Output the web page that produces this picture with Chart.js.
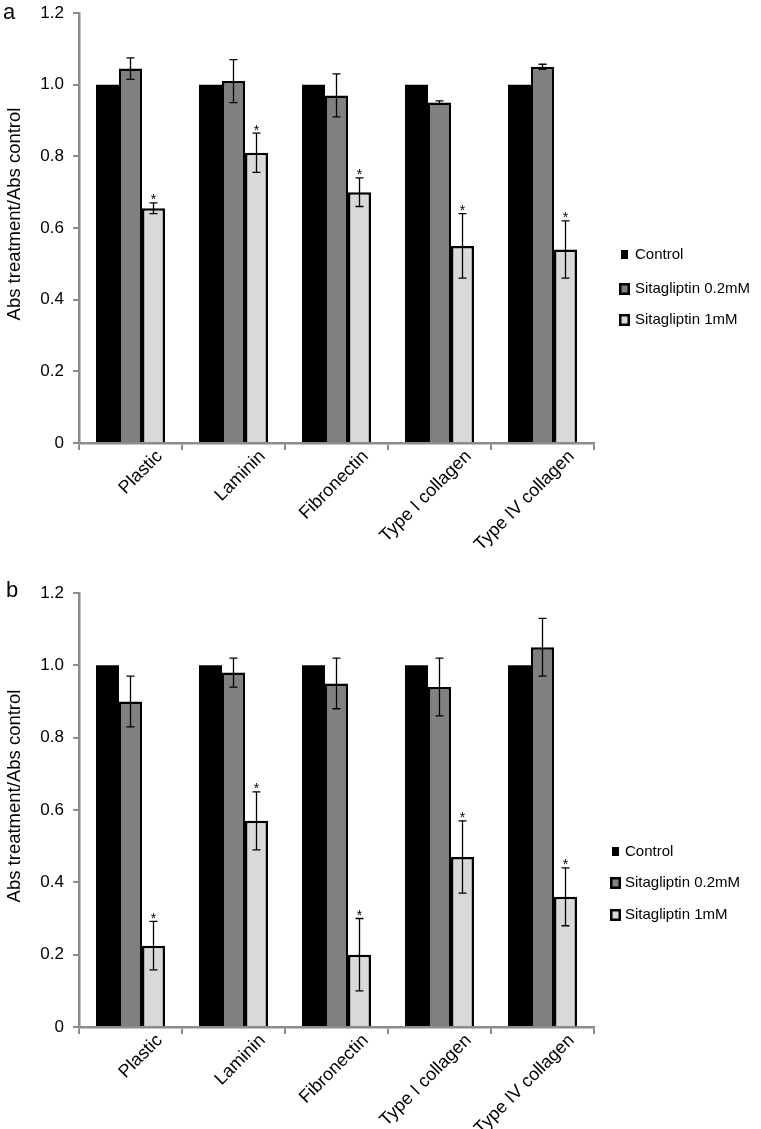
<!DOCTYPE html>
<html>
<head>
<meta charset="utf-8">
<title>Sitagliptin – adhesion to matrix</title>
<script src="https://cdn.jsdelivr.net/npm/chart.js@4.4.1/dist/chart.umd.min.js"></script>
<style>
  html, body { margin: 0; padding: 0; background: #fff; }
  .panel { position: absolute; left: 0; width: 761px; }
  #panelA { top: 0; height: 560px; }
  #panelB { top: 560px; height: 569px; }
</style>
</head>
<body>
<div class="panel" id="panelA"><canvas id="chartA" width="761" height="560"></canvas></div>
<div class="panel" id="panelB"><canvas id="chartB" width="761" height="569"></canvas></div>
<script>
// ---- data ----
const categories = ["Plastic", "Laminin", "Fibronectin", "Type I collagen", "Type IV collagen"];
const seriesNames = ["Control", "Sitagliptin 0.2mM", "Sitagliptin 1mM"];
const yTickLabels = ["0", "0.2", "0.4", "0.6", "0.8", "1.0", "1.2"];
const yTitle = "Abs treatment/Abs control";

// panel a
const controlA = [1, 1, 1, 1, 1];
const sita02A = [1.045, 1.01, 0.97, 0.95, 1.05];
const sita02ErrA = [0.03, 0.06, 0.06, 0.005, 0.007];
const sita1A = [0.655, 0.81, 0.70, 0.55, 0.54];
const sita1ErrA = [0.015, 0.055, 0.04, 0.09, 0.08];
const starsA = [true, true, true, true, true];

// panel b
const controlB = [1, 1, 1, 1, 1];
const sita02B = [0.90, 0.98, 0.95, 0.94, 1.05];
const sita02ErrB = [0.07, 0.04, 0.07, 0.08, 0.08];
const sita1B = [0.225, 0.57, 0.20, 0.47, 0.36];
const sita1ErrB = [0.067, 0.08, 0.10, 0.10, 0.08];
const starsB = [true, true, true, true, true];

const colors = ["#000000", "#808080", "#d9d9d9"];
const FONT = "'Liberation Sans', Arial, sans-serif";

// error bars + significance stars
const errorBarPlugin = {
  id: "errorBars",
  afterDatasetsDraw(chart) {
    const ctx = chart.ctx;
    const y = chart.scales.y;
    chart.data.datasets.forEach((ds, i) => {
      if (!ds.errors) return;
      const meta = chart.getDatasetMeta(i);
      meta.data.forEach((bar, j) => {
        const v = ds.data[j], e = ds.errors[j];
        const top = y.getPixelForValue(v + e);
        const bot = y.getPixelForValue(v - e);
        ctx.save();
        ctx.strokeStyle = "#000";
        ctx.lineWidth = 1.3;
        ctx.beginPath();
        ctx.moveTo(bar.x, top); ctx.lineTo(bar.x, bot);
        ctx.moveTo(bar.x - 4, top); ctx.lineTo(bar.x + 4, top);
        ctx.moveTo(bar.x - 4, bot); ctx.lineTo(bar.x + 4, bot);
        ctx.stroke();
        if (ds.stars && ds.stars[j]) {
          ctx.fillStyle = "#000";
          ctx.font = "14px " + FONT;
          ctx.textAlign = "center";
          ctx.textBaseline = "alphabetic";
          ctx.fillText("*", bar.x, top + 1.5);
        }
        ctx.restore();
      });
    });
  }
};

// panel letter, y title and legend on the right
const sideLegendPlugin = {
  id: "sideLegend",
  afterDraw(chart, args, opts) {
    const ctx = chart.ctx;
    ctx.save();
    ctx.fillStyle = "#000";
    ctx.font = "22px " + FONT;
    ctx.textAlign = "left";
    ctx.textBaseline = "middle";
    ctx.fillText(opts.letter, opts.letterX, opts.letterY);

    ctx.save();
    ctx.translate(opts.titleX, opts.titleY);
    ctx.rotate(-Math.PI / 2);
    ctx.textAlign = "center";
    ctx.textBaseline = "alphabetic";
    ctx.font = "18.5px " + FONT;
    ctx.fillText(yTitle, 0, 0);
    ctx.restore();

    ctx.font = "15px " + FONT;
    ctx.textAlign = "left";
    ctx.textBaseline = "middle";
    chart.data.datasets.forEach((ds, i) => {
      const yy = opts.ys[i];
      if (i === 0) {
        ctx.fillStyle = ds.backgroundColor;
        ctx.fillRect(opts.x + 2, yy - 5, 7, 9);
      } else {
        ctx.fillStyle = "#000";
        ctx.fillRect(opts.x, yy - 6, 11, 12);
        ctx.fillStyle = ds.backgroundColor;
        ctx.fillRect(opts.x + 2.5, yy - 3.5, 6, 7);
      }
      ctx.fillStyle = "#000";
      ctx.fillText(ds.label, opts.textX, yy);
    });
    ctx.restore();
  }
};

function makeDatasets(control, s02, e02, s1, e1, stars) {
  return [
    { label: seriesNames[0], data: control, backgroundColor: colors[0], borderWidth: 0 },
    { label: seriesNames[1], data: s02, errors: e02, backgroundColor: colors[1], borderColor: "#000", borderWidth: 2.5 },
    { label: seriesNames[2], data: s1, errors: e1, stars: stars, backgroundColor: colors[2], borderColor: "#000", borderWidth: 2.5 }
  ];
}

function makeChart(canvasId, datasets, cfg) {
  return new Chart(document.getElementById(canvasId), {
    type: "bar",
    data: { labels: categories, datasets: datasets },
    options: {
      responsive: false,
      animation: false,
      layout: { padding: { top: cfg.top, right: 167, left: 0, bottom: 0 } },
      datasets: { bar: { categoryPercentage: 0.67, barPercentage: 1.0 } },
      plugins: {
        legend: { display: false },
        tooltip: { enabled: false },
        sideLegend: cfg.legend
      },
      scales: {
        x: {
          afterFit: (scale) => { scale.height = cfg.xHeight; },
          border: { color: "#8c8c8c", width: 2.5 },
          grid: { drawOnChartArea: false, drawTicks: true, tickLength: 7, color: "#8c8c8c", lineWidth: 2 },
          ticks: {
            color: "#000",
            font: { family: FONT, size: 18 },
            minRotation: 45,
            maxRotation: 45,
            labelOffset: 29,
            padding: -4
          }
        },
        y: {
          min: 0,
          max: 1.2,
          afterFit: (scale) => {
            scale.width = 79;
            // keep the plot area where the layout padding puts it
            scale.paddingTop = 0;
            scale.paddingBottom = 0;
          },
          border: { color: "#8c8c8c", width: 2.5 },
          grid: { drawOnChartArea: false, drawTicks: true, tickLength: 6, color: "#8c8c8c", lineWidth: 2 },
          ticks: {
            stepSize: 0.2,
            color: "#000",
            padding: 9,
            font: { family: FONT, size: 17 },
            callback: (v, i) => yTickLabels[i]
          }
        }
      }
    },
    plugins: [errorBarPlugin, sideLegendPlugin]
  });
}

makeChart("chartA", makeDatasets(controlA, sita02A, sita02ErrA, sita1A, sita1ErrA, starsA), {
  top: 13,
  xHeight: 117,
  legend: { letter: "a", letterX: 3, letterY: 13, titleX: 19.5, titleY: 214,
            x: 619, textX: 635, ys: [255, 289, 320] }
});

makeChart("chartB", makeDatasets(controlB, sita02B, sita02ErrB, sita1B, sita1ErrB, starsB), {
  top: 33,
  xHeight: 102,
  legend: { letter: "b", letterX: 6, letterY: 31, titleX: 19.5, titleY: 236,
            x: 610, textX: 625, ys: [292, 323, 355] }
});
</script>
</body>
</html>
